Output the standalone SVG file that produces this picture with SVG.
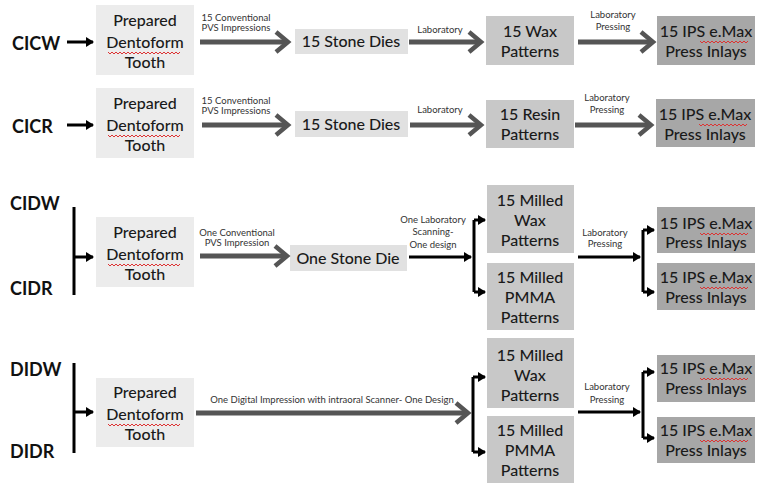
<svg xmlns="http://www.w3.org/2000/svg" width="760" height="483" viewBox="0 0 760 483">
<style>
.bg{fill:#ffffff}
.b1{fill:#ececec}
.b2{fill:#e1e1e1}
.b3{fill:#c8c8c8}
.b4{fill:#a7a7a7}
.t{font-family:Lato,"Open Sans",sans-serif;font-size:16px;font-weight:500;fill:#1a1a1a;text-anchor:middle}
.g{font-family:Lato,"Open Sans",sans-serif;font-size:18px;font-weight:bold;fill:#111}
.s{font-family:Lato,"Open Sans",sans-serif;font-size:9.5px;fill:#333;text-anchor:middle}
.thick{stroke:#555;stroke-width:5;fill:none}
.thin{stroke:#000;stroke-width:3;fill:none}
.sq{stroke:#d33;stroke-width:1;fill:none}
</style>
<defs>
<marker id="chev" markerUnits="userSpaceOnUse" markerWidth="30" markerHeight="30" viewBox="-20 -15 30 30" refX="0" refY="0" orient="auto">
<path d="M-12,-10 L0,0 L-12,10" fill="none" stroke="#555" stroke-width="4.5"/>
</marker>
<marker id="tri" markerUnits="userSpaceOnUse" markerWidth="12" markerHeight="12" viewBox="-8 -6 12 12" refX="0" refY="0" orient="auto">
<path d="M-7,-5 L1,0 L-7,5z" fill="#000"/>
</marker>
</defs>
<rect class="bg" width="760" height="483"/>

<g id="groups">
<text class="g" x="12" y="50">CICW</text>
<text class="g" x="12" y="133">CICR</text>
<text class="g" x="10" y="210">CIDW</text>
<text class="g" x="10" y="295">CIDR</text>
<text class="g" x="10" y="376">DIDW</text>
<text class="g" x="10" y="458">DIDR</text>
</g>

<!-- Row 1 -->
<g id="r1-tooth"><rect class="b1" x="96" y="5" width="98" height="70"/>
<text class="t" x="145" y="26">Prepared</text><text class="t" x="145" y="48">Dentoform</text><text class="t" x="145" y="68">Tooth</text>
<path class="sq" d="M108,52 l2,2 l2,-2 l2,2 l2,-2 l2,2 l2,-2 l2,2 l2,-2 l2,2 l2,-2 l2,2 l2,-2 l2,2 l2,-2 l2,2 l2,-2 l2,2 l2,-2 l2,2 l2,-2 l2,2 l2,-2 l2,2 l2,-2 l2,2 l2,-2 l2,2 l2,-2 l2,2 l2,-2 l2,2 l2,-2 l2,2 l2,-2 l2,2 l2,-2"/></g>
<g id="r1-dies"><rect class="b2" x="295" y="29" width="113" height="25"/><text class="t" x="351" y="47">15 Stone Dies</text></g>
<g id="r1-wax"><rect class="b3" x="486" y="16" width="88" height="49"/><text class="t" x="530" y="37">15 Wax</text><text class="t" x="530" y="57">Patterns</text></g>
<g id="r1-ips"><rect class="b4" x="657" y="16" width="98" height="49"/><text class="t" x="706" y="37">15 IPS e.Max</text><text class="t" x="706" y="57">Press Inlays</text>
<path class="sq" d="M700,41 l2,2 l2,-2 l2,2 l2,-2 l2,2 l2,-2 l2,2 l2,-2 l2,2 l2,-2 l2,2 l2,-2 l2,2 l2,-2 l2,2 l2,-2 l2,2 l2,-2 l2,2 l2,-2 l2,2 l2,-2 l2,2 l2,-2"/></g>

<!-- Row 2 -->
<g id="r2-tooth"><rect class="b1" x="96" y="88" width="98" height="70"/>
<text class="t" x="145" y="109">Prepared</text><text class="t" x="145" y="131">Dentoform</text><text class="t" x="145" y="151">Tooth</text>
<path class="sq" d="M108,135 l2,2 l2,-2 l2,2 l2,-2 l2,2 l2,-2 l2,2 l2,-2 l2,2 l2,-2 l2,2 l2,-2 l2,2 l2,-2 l2,2 l2,-2 l2,2 l2,-2 l2,2 l2,-2 l2,2 l2,-2 l2,2 l2,-2 l2,2 l2,-2 l2,2 l2,-2 l2,2 l2,-2 l2,2 l2,-2 l2,2 l2,-2 l2,2 l2,-2"/></g>
<g id="r2-dies"><rect class="b2" x="295" y="111" width="113" height="26"/><text class="t" x="351" y="130">15 Stone Dies</text></g>
<g id="r2-resin"><rect class="b3" x="486" y="100" width="88" height="48"/><text class="t" x="530" y="120">15 Resin</text><text class="t" x="530" y="140">Patterns</text></g>
<g id="r2-ips"><rect class="b4" x="656" y="99" width="99" height="48"/><text class="t" x="705" y="120">15 IPS e.Max</text><text class="t" x="705" y="140">Press Inlays</text>
<path class="sq" d="M699,124 l2,2 l2,-2 l2,2 l2,-2 l2,2 l2,-2 l2,2 l2,-2 l2,2 l2,-2 l2,2 l2,-2 l2,2 l2,-2 l2,2 l2,-2 l2,2 l2,-2 l2,2 l2,-2 l2,2 l2,-2 l2,2 l2,-2"/></g>

<!-- Row 3 -->
<g id="r3-tooth"><rect class="b1" x="96" y="217" width="98" height="70"/>
<text class="t" x="145" y="238">Prepared</text><text class="t" x="145" y="260">Dentoform</text><text class="t" x="145" y="280">Tooth</text>
<path class="sq" d="M108,264 l2,2 l2,-2 l2,2 l2,-2 l2,2 l2,-2 l2,2 l2,-2 l2,2 l2,-2 l2,2 l2,-2 l2,2 l2,-2 l2,2 l2,-2 l2,2 l2,-2 l2,2 l2,-2 l2,2 l2,-2 l2,2 l2,-2 l2,2 l2,-2 l2,2 l2,-2 l2,2 l2,-2 l2,2 l2,-2 l2,2 l2,-2 l2,2 l2,-2"/></g>
<g id="r3-die"><rect class="b2" x="290" y="245" width="117" height="26"/><text class="t" x="348" y="264">One Stone Die</text></g>
<g id="r3-wax"><rect class="b3" x="487" y="185" width="87" height="68"/><text class="t" x="530" y="206">15 Milled</text><text class="t" x="530" y="226">Wax</text><text class="t" x="530" y="246">Patterns</text></g>
<g id="r3-pmma"><rect class="b3" x="487" y="263" width="87" height="67"/><text class="t" x="530" y="283">15 Milled</text><text class="t" x="530" y="303">PMMA</text><text class="t" x="530" y="323">Patterns</text></g>
<g id="r3-ips1"><rect class="b4" x="657" y="207" width="98" height="46"/><text class="t" x="706" y="229">15 IPS e.Max</text><text class="t" x="706" y="248">Press Inlays</text>
<path class="sq" d="M700,233 l2,2 l2,-2 l2,2 l2,-2 l2,2 l2,-2 l2,2 l2,-2 l2,2 l2,-2 l2,2 l2,-2 l2,2 l2,-2 l2,2 l2,-2 l2,2 l2,-2 l2,2 l2,-2 l2,2 l2,-2 l2,2 l2,-2"/></g>
<g id="r3-ips2"><rect class="b4" x="657" y="263" width="98" height="47"/><text class="t" x="706" y="283">15 IPS e.Max</text><text class="t" x="706" y="303">Press Inlays</text>
<path class="sq" d="M700,287 l2,2 l2,-2 l2,2 l2,-2 l2,2 l2,-2 l2,2 l2,-2 l2,2 l2,-2 l2,2 l2,-2 l2,2 l2,-2 l2,2 l2,-2 l2,2 l2,-2 l2,2 l2,-2 l2,2 l2,-2 l2,2 l2,-2"/></g>

<!-- Row 4 -->
<g id="r4-tooth"><rect class="b1" x="96" y="378" width="98" height="69"/>
<text class="t" x="145" y="398">Prepared</text><text class="t" x="145" y="420">Dentoform</text><text class="t" x="145" y="440">Tooth</text>
<path class="sq" d="M108,424 l2,2 l2,-2 l2,2 l2,-2 l2,2 l2,-2 l2,2 l2,-2 l2,2 l2,-2 l2,2 l2,-2 l2,2 l2,-2 l2,2 l2,-2 l2,2 l2,-2 l2,2 l2,-2 l2,2 l2,-2 l2,2 l2,-2 l2,2 l2,-2 l2,2 l2,-2 l2,2 l2,-2 l2,2 l2,-2 l2,2 l2,-2 l2,2 l2,-2"/></g>
<g id="r4-wax"><rect class="b3" x="487" y="338" width="87" height="70"/><text class="t" x="530" y="361">15 Milled</text><text class="t" x="530" y="381">Wax</text><text class="t" x="530" y="401">Patterns</text></g>
<g id="r4-pmma"><rect class="b3" x="487" y="416" width="87" height="67"/><text class="t" x="530" y="436">15 Milled</text><text class="t" x="530" y="456">PMMA</text><text class="t" x="530" y="476">Patterns</text></g>
<g id="r4-ips1"><rect class="b4" x="657" y="355" width="98" height="47"/><text class="t" x="706" y="374">15 IPS e.Max</text><text class="t" x="706" y="394">Press Inlays</text>
<path class="sq" d="M700,378 l2,2 l2,-2 l2,2 l2,-2 l2,2 l2,-2 l2,2 l2,-2 l2,2 l2,-2 l2,2 l2,-2 l2,2 l2,-2 l2,2 l2,-2 l2,2 l2,-2 l2,2 l2,-2 l2,2 l2,-2 l2,2 l2,-2"/></g>
<g id="r4-ips2"><rect class="b4" x="657" y="417" width="98" height="46"/><text class="t" x="706" y="436">15 IPS e.Max</text><text class="t" x="706" y="456">Press Inlays</text>
<path class="sq" d="M700,440 l2,2 l2,-2 l2,2 l2,-2 l2,2 l2,-2 l2,2 l2,-2 l2,2 l2,-2 l2,2 l2,-2 l2,2 l2,-2 l2,2 l2,-2 l2,2 l2,-2 l2,2 l2,-2 l2,2 l2,-2 l2,2 l2,-2"/></g>

<g id="connectors">
<!-- row 1 -->
<line class="thin" x1="67" y1="42" x2="93" y2="42" marker-end="url(#tri)"/>
<line class="thick" x1="200" y1="42" x2="288" y2="42" marker-end="url(#chev)"/>
<line class="thick" x1="409" y1="42" x2="481" y2="42" marker-end="url(#chev)"/>
<line class="thick" x1="578" y1="42" x2="653" y2="42" marker-end="url(#chev)"/>
<!-- row 2 -->
<line class="thin" x1="67" y1="125" x2="93" y2="125" marker-end="url(#tri)"/>
<line class="thick" x1="202" y1="125" x2="288" y2="125" marker-end="url(#chev)"/>
<line class="thick" x1="410" y1="125" x2="481" y2="125" marker-end="url(#chev)"/>
<line class="thick" x1="575" y1="125" x2="651" y2="125" marker-end="url(#chev)"/>
<!-- row 3 -->
<line class="thin" x1="74" y1="207" x2="74" y2="295"/>
<line class="thin" x1="74" y1="257" x2="93" y2="257" marker-end="url(#tri)"/>
<line class="thick" x1="200" y1="256" x2="287" y2="256" marker-end="url(#chev)"/>
<line class="thin" x1="409" y1="257" x2="471" y2="257" marker-end="url(#tri)"/>
<line class="thin" x1="474" y1="220" x2="474" y2="292"/>
<line class="thin" x1="474" y1="220" x2="485" y2="220" marker-end="url(#tri)"/>
<line class="thin" x1="474" y1="292" x2="485" y2="292" marker-end="url(#tri)"/>
<line class="thin" x1="578" y1="257" x2="640" y2="257" marker-end="url(#tri)"/>
<line class="thin" x1="643" y1="230" x2="643" y2="292"/>
<line class="thin" x1="643" y1="230" x2="654" y2="230" marker-end="url(#tri)"/>
<line class="thin" x1="643" y1="292" x2="654" y2="292" marker-end="url(#tri)"/>
<!-- row 4 -->
<line class="thin" x1="74" y1="363" x2="74" y2="453"/>
<line class="thin" x1="74" y1="412" x2="93" y2="412" marker-end="url(#tri)"/>
<line class="thick" x1="196" y1="413" x2="468" y2="413" marker-end="url(#chev)"/>
<line class="thin" x1="473" y1="377" x2="473" y2="452"/>
<line class="thin" x1="473" y1="377" x2="485" y2="377" marker-end="url(#tri)"/>
<line class="thin" x1="473" y1="452" x2="485" y2="452" marker-end="url(#tri)"/>
<line class="thin" x1="578" y1="412" x2="640" y2="412" marker-end="url(#tri)"/>
<line class="thin" x1="643" y1="372" x2="643" y2="438"/>
<line class="thin" x1="643" y1="372" x2="654" y2="372" marker-end="url(#tri)"/>
<line class="thin" x1="643" y1="438" x2="654" y2="438" marker-end="url(#tri)"/>
</g>

<g id="labels">
<text class="s" x="236" y="21">15 Conventional</text>
<text class="s" x="236" y="31">PVS Impressions</text>
<text class="s" x="440" y="33">Laboratory</text>
<text class="s" x="613" y="18">Laboratory</text>
<text class="s" x="613" y="30">Pressing</text>
<text class="s" x="236" y="104">15 Conventional</text>
<text class="s" x="236" y="114">PVS Impressions</text>
<text class="s" x="440" y="113">Laboratory</text>
<text class="s" x="607" y="101">Laboratory</text>
<text class="s" x="607" y="113">Pressing</text>
<text class="s" x="237" y="236">One Conventional</text>
<text class="s" x="237" y="246">PVS Impression</text>
<text class="s" x="433" y="223">One Laboratory</text>
<text class="s" x="433" y="235">Scanning-</text>
<text class="s" x="433" y="248">One design</text>
<text class="s" x="605" y="236">Laboratory</text>
<text class="s" x="605" y="247">Pressing</text>
<text class="s" x="332" y="403">One Digital  Impression with intraoral Scanner- One Design</text>
<text class="s" x="607" y="390">Laboratory</text>
<text class="s" x="607" y="403">Pressing</text>
</g>
</svg>
